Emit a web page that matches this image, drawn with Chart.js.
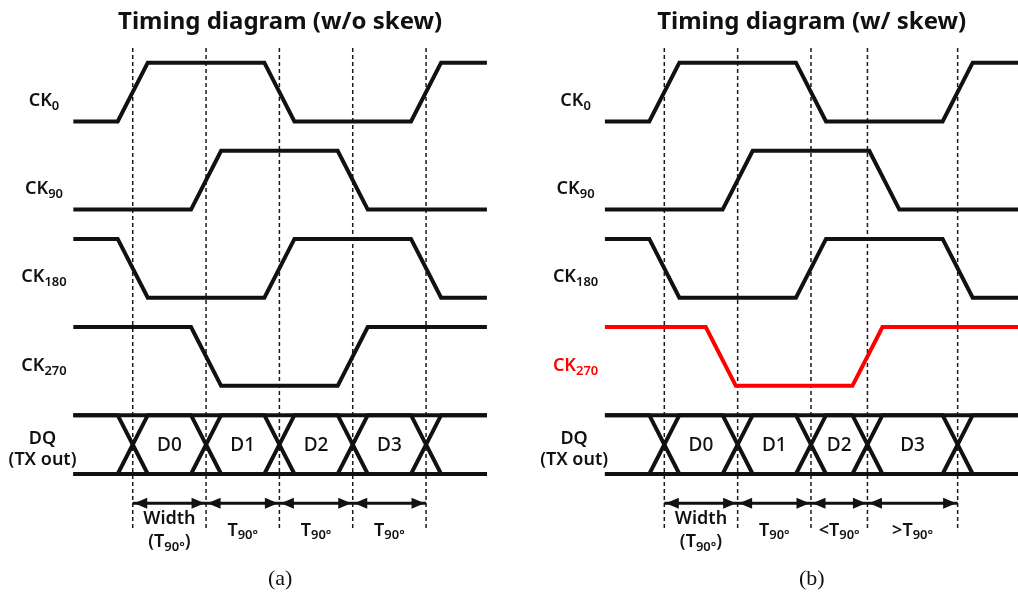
<!DOCTYPE html>
<html>
<head>
<meta charset="utf-8">
<script src="https://cdn.jsdelivr.net/npm/chart.js@4.4.0/dist/chart.umd.min.js"></script>
<style>
body { margin: 0; background: #fff; }
#wrap { position: relative; width: 1018px; height: 595px; overflow: hidden; font-family: "Noto Sans", sans-serif; color: #111; }
.panel { position: absolute; top: 0; width: 509px; height: 595px; }
.panel canvas { position: absolute; left: 0; top: 0; }
.lbl { position: absolute; transform: translate(-50%, -50%); white-space: nowrap; line-height: 1; text-align: center; }
.title { font-size: 24px; font-weight: bold; }
.sig { font-size: 18px; font-weight: 600; }
.dq { font-size: 18px; font-weight: 600; line-height: 21px; }
.data { font-size: 19px; font-weight: 500; }
.span { font-size: 18px; font-weight: 600; line-height: 23px; }
.cap { font-family: "Liberation Serif", serif; font-size: 22px; }
sub { font-size: 0.72em; vertical-align: -0.28em; line-height: 0; }
</style>
</head>
<body>
<div id="wrap">
  <div class="panel" id="panelA"><canvas id="chartA" width="509" height="595"></canvas></div>
  <div class="panel" id="panelB" style="left:509px"><canvas id="chartB" width="509" height="595"></canvas></div>
</div>
<script>
// ==================== DATA ====================
// time unit = one quarter clock period (T90)
const timeStart = 0.19;
const timeEnd = 5.83;
const edgeHalf = 0.205;          // half of the rise/fall time

const signalSubs = ['0', '90', '180', '270'];

// (a) without skew
const titleA = 'Timing diagram (w/o skew)';
const ckStartA = [0, 0, 1, 1];
const ckEdgesA = [[1, 3, 5], [2, 4], [1, 3, 5], [2, 4]];
const dqCrossA = [1, 2, 3, 4, 5];
const dataNamesA = ['D0', 'D1', 'D2', 'D3'];
const spanNamesA = ['Width<br>(T<sub>90°</sub>)', 'T<sub>90°</sub>', 'T<sub>90°</sub>', 'T<sub>90°</sub>'];

// (b) with skew on CK270
const titleB = 'Timing diagram (w/ skew)';
const ckStartB = [0, 0, 1, 1];
const ckEdgesB = [[1, 3, 5], [2, 4], [1, 3, 5], [1.77, 3.77]];
const dqCrossB = [1, 2, 3, 3.77, 5];
const dataNamesB = ['D0', 'D1', 'D2', 'D3'];
const spanNamesB = ['Width<br>(T<sub>90°</sub>)', 'T<sub>90°</sub>', '&lt;T<sub>90°</sub>', '&gt;T<sub>90°</sub>'];

// ==================== LAYOUT ====================
const lanePitch = 1.5;
const dashTop = 1.25, dashBottom = -6.94;
const arrowY = -6.5;
const BLACK = '#111';
const RED = '#ff0000';

function laneY(lane, level) {
    return level - lanePitch * lane;
}

function wavePoints(lane, level0, edges) {
    let lvl = level0;
    const pts = [{ x: timeStart, y: laneY(lane, lvl) }];
    edges.forEach(t => {
        pts.push({ x: t - edgeHalf, y: laneY(lane, lvl) });
        lvl = 1 - lvl;
        pts.push({ x: t + edgeHalf, y: laneY(lane, lvl) });
    });
    pts.push({ x: timeEnd, y: laneY(lane, lvl) });
    return pts;
}

function railPoints(lane, level) {
    return [{ x: timeStart, y: laneY(lane, level) }, { x: timeEnd, y: laneY(lane, level) }];
}

function dashPoints(times) {
    const pts = [];
    times.forEach(t => {
        pts.push({ x: t, y: dashTop }, { x: t, y: dashBottom }, { x: t, y: null });
    });
    return pts;
}

function arrowPoints(times) {
    const pts = [];
    for (let i = 0; i < times.length - 1; i++) {
        pts.push({ x: times[i], y: arrowY }, { x: times[i + 1], y: arrowY }, { x: times[i], y: null });
    }
    return pts;
}

// draws filled arrow heads at both ends of every segment of an "arrows" dataset
const arrowHeadPlugin = {
    id: 'arrowHeads',
    afterDatasetsDraw(chart) {
        const ctx = chart.ctx;
        const xs = chart.scales.x, ys = chart.scales.y;
        chart.data.datasets.forEach(ds => {
            if (!ds.arrows) return;
            ctx.save();
            ctx.fillStyle = ds.borderColor;
            const d = ds.data;
            for (let i = 0; i + 1 < d.length; i += 3) {
                const x1 = xs.getPixelForValue(d[i].x), x2 = xs.getPixelForValue(d[i + 1].x);
                const y = ys.getPixelForValue(d[i].y);
                [[x1 + 1.5, 1], [x2 - 1.5, -1]].forEach(([x, dir]) => {
                    ctx.beginPath();
                    ctx.moveTo(x, y);
                    ctx.lineTo(x + dir * 13, y - 5.5);
                    ctx.lineTo(x + dir * 13, y + 5.5);
                    ctx.closePath();
                    ctx.fill();
                });
            }
            ctx.restore();
        });
    }
};

function buildChart(canvasId, xMin, xMax, ckStart, ckEdges, dqCross, redLane) {
    const datasets = [];
    ckEdges.forEach((edges, lane) => {
        datasets.push({
            data: wavePoints(lane, ckStart[lane], edges),
            borderColor: lane === redLane ? RED : BLACK,
            borderWidth: 4,
            order: 1
        });
    });
    // DQ eye: two complementary traces between two continuous rails
    datasets.push({ data: wavePoints(4, 1, dqCross), borderColor: BLACK, borderWidth: 4, order: 1 });
    datasets.push({ data: wavePoints(4, 0, dqCross), borderColor: BLACK, borderWidth: 4, order: 1 });
    datasets.push({ data: railPoints(4, 1), borderColor: BLACK, borderWidth: 4, order: 1 });
    datasets.push({ data: railPoints(4, 0), borderColor: BLACK, borderWidth: 4, order: 1 });
    datasets.push({
        data: dashPoints(dqCross), borderColor: '#1a1a1a', borderWidth: 1.5,
        borderDash: [4, 3], spanGaps: false, order: 5
    });
    datasets.push({
        data: arrowPoints(dqCross), borderColor: BLACK, borderWidth: 3,
        spanGaps: false, arrows: true, order: 2
    });

    return new Chart(document.getElementById(canvasId), {
        type: 'line',
        data: { datasets },
        options: {
            responsive: false,
            animation: false,
            events: [],
            layout: { padding: 0 },
            elements: { point: { radius: 0 }, line: { tension: 0, borderCapStyle: 'butt', borderJoinStyle: 'miter' } },
            plugins: { legend: { display: false }, tooltip: { enabled: false }, title: { display: false } },
            scales: {
                x: { type: 'linear', display: false, min: xMin, max: xMax },
                y: { type: 'linear', display: false, min: -8.06, max: 2.067 }
            }
        },
        plugins: [arrowHeadPlugin]
    });
}

function addLabel(panel, chart, html, x, y, cls, color) {
    const el = document.createElement('div');
    el.className = 'lbl ' + cls;
    el.innerHTML = html;
    el.style.left = chart.scales.x.getPixelForValue(x) + 'px';
    el.style.top = chart.scales.y.getPixelForValue(y) + 'px';
    if (color) el.style.color = color;
    panel.appendChild(el);
}

function decorate(panelId, chart, title, caption, dqCross, dataNames, spanNames, redLane) {
    const panel = document.getElementById(panelId);
    const mid = (timeStart + timeEnd) / 2;
    const labelX = timeStart - 0.4;
    addLabel(panel, chart, title, mid, 1.727, 'title');
    signalSubs.forEach((s, lane) => {
        addLabel(panel, chart, 'CK<sub>' + s + '</sub>', labelX, laneY(lane, 0.38), 'sig', lane === redLane ? RED : null);
    });
    addLabel(panel, chart, 'DQ<br>(TX out)', labelX - 0.02, laneY(4, 0.45), 'dq');
    dataNames.forEach((n, i) => {
        addLabel(panel, chart, n, (dqCross[i] + dqCross[i + 1]) / 2, -5.49, 'data');
    });
    spanNames.forEach((n, i) => {
        addLabel(panel, chart, n, (dqCross[i] + dqCross[i + 1]) / 2, -6.93, 'span');
    });
    addLabel(panel, chart, caption, mid, -7.77, 'cap');
}

// ==================== RENDER ====================
const chartA = buildChart('chartA', -0.81, 6.131, ckStartA, ckEdgesA, dqCrossA, -1);
const chartB = buildChart('chartB', -1.118, 5.823, ckStartB, ckEdgesB, dqCrossB, 3);

decorate('panelA', chartA, titleA, '(a)', dqCrossA, dataNamesA, spanNamesA, -1);
decorate('panelB', chartB, titleB, '(b)', dqCrossB, dataNamesB, spanNamesB, 3);
</script>
</body>
</html>
